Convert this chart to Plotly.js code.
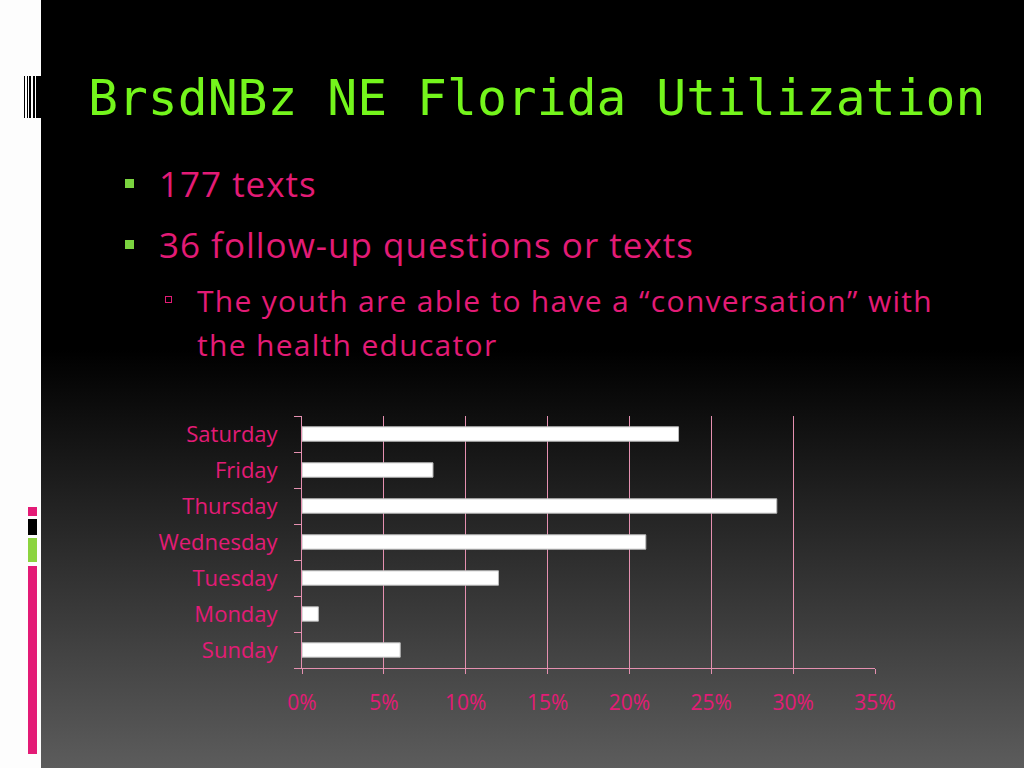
<!DOCTYPE html>
<html>
<head>
<meta charset="utf-8">
<script src="https://cdn.plot.ly/plotly-3.0.1.min.js"></script>
<style>
  html, body { margin: 0; padding: 0; }
  body {
    width: 1024px; height: 768px; overflow: hidden; position: relative;
    background: linear-gradient(to bottom, #000 0px, #000 350px, #5c5c5c 768px);
    font-family: "Open Sans", sans-serif;
  }
  #strip { position: absolute; left: 0; top: 0; width: 41px; height: 768px; background: #fdfdfd; }
  .bar { position: absolute; }
  #title {
    position: absolute; left: 88px; top: 68px; margin: 0;
    font-family: "DejaVu Sans Mono", monospace; font-weight: normal;
    font-size: 49.7px; line-height: 60px; color: #74f51c; white-space: nowrap;
  }
  .line { position: absolute; color: #e31b76; white-space: nowrap; line-height: 1.2; }
  .big { font-size: 35px; letter-spacing: 1px; }
  .small { font-size: 30px; letter-spacing: 1.3px; }
  .sq { position: absolute; background: #7ad33f; width: 9px; height: 9px; }
  .hsq { position: absolute; border: 1px solid #e31b76; width: 5px; height: 5px; }
  #chart { position: absolute; left: 0; top: 0; width: 1024px; height: 768px; }
</style>
</head>
<body>
<div id="strip"></div>
<!-- barcode mark -->
<div class="bar" style="left:24px;top:76px;width:1px;height:42px;background:#000"></div>
<div class="bar" style="left:27px;top:76px;width:1px;height:42px;background:#000"></div>
<div class="bar" style="left:29px;top:76px;width:2px;height:42px;background:#000"></div>
<div class="bar" style="left:33px;top:76px;width:2px;height:42px;background:#000"></div>
<div class="bar" style="left:36px;top:76px;width:5px;height:42px;background:#000"></div>
<!-- colour bars -->
<div class="bar" style="left:28px;top:507px;width:9px;height:9px;background:#e31b76"></div>
<div class="bar" style="left:28px;top:519px;width:9px;height:16px;background:#000"></div>
<div class="bar" style="left:28px;top:538px;width:9px;height:24px;background:#8cd43f"></div>
<div class="bar" style="left:28px;top:566px;width:9px;height:188px;background:#e31b76"></div>

<h1 id="title">BrsdNBz NE Florida Utilization</h1>

<div class="sq" style="left:125px;top:179px"></div>
<div class="line big" style="left:159px;top:163px">177 texts</div>
<div class="sq" style="left:125px;top:240px"></div>
<div class="line big" style="left:159px;top:224px">36 follow-up questions or texts</div>
<div class="hsq" style="left:165px;top:296px"></div>
<div class="line small" style="left:197px;top:283px">The youth are able to have a “conversation” with</div>
<div class="line small" style="left:197px;top:327px">the health educator</div>

<div id="chart"></div>
<script>
// share of texts by weekday, bottom to top
var days = ['Sunday', 'Monday', 'Tuesday', 'Wednesday', 'Thursday', 'Friday', 'Saturday']
var shares = [0.06, 0.01, 0.12, 0.21, 0.29, 0.08, 0.23]
var xTicks = [0, 0.05, 0.10, 0.15, 0.20, 0.25, 0.30, 0.35]

const pink = '#e31b76'
const gridPink = '#e590b0'

var data = [{
    type: 'bar',
    orientation: 'h',
    x: shares,
    y: days,
    marker: { color: '#ffffff', line: { color: '#bbbbbb', width: 1 } },
    hoverinfo: 'none',
}]

var layout = {
    width: 1024,
    height: 768,
    margin: { l: 302, r: 149, t: 416, b: 100 },
    paper_bgcolor: 'rgba(0,0,0,0)',
    plot_bgcolor: 'rgba(0,0,0,0)',
    bargap: 0.6,
    showlegend: false,
    font: { family: 'Open Sans, sans-serif', color: pink },
    xaxis: {
        range: [0, 0.35],
        tickvals: xTicks,
        tickformat: '.0%',
        showgrid: true,
        gridcolor: gridPink,
        gridwidth: 1,
        showline: true,
        linecolor: gridPink,
        ticks: 'outside',
        ticklen: 5,
        tickcolor: gridPink,
        ticklabelstandoff: 11,
        tickfont: { size: 21, color: pink },
        zeroline: false,
        fixedrange: true,
    },
    yaxis: {
        categoryorder: 'array',
        categoryarray: days,
        showline: true,
        linecolor: gridPink,
        ticks: 'outside',
        tickson: 'boundaries',
        ticklen: 7,
        tickcolor: gridPink,
        ticklabelstandoff: 19,
        tickfont: { size: 22, color: pink },
        showgrid: false,
        fixedrange: true,
    },
}

Plotly.newPlot('chart', data, layout, { displayModeBar: false, staticPlot: true })
</script>
</body>
</html>
